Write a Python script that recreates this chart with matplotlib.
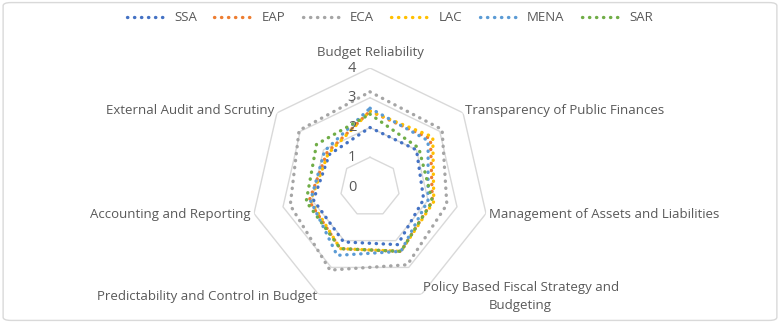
import numpy as np
import matplotlib.pyplot as plt
import matplotlib.transforms as mtransforms
from matplotlib.lines import Line2D
from matplotlib.patches import FancyBboxPatch

plt.rcParams['font.family'] = ['Open Sans', 'DejaVu Sans']

# Category axes (clockwise from the top)
categories = ['Budget Reliability', 'Transparency of Public Finances',
              'Management of Assets and Liabilities',
              'Policy Based Fiscal Strategy and\nBudgeting',
              'Predictability and Control in Budget',
              'Accounting and Reporting', 'External Audit and Scrutiny']

# Region scores
ssa = [2.0, 2.0, 1.85, 2.15, 2.05, 1.95, 1.75]
eap = [2.55, 2.6, 2.15, 2.4, 2.3, 2.1, 1.85]
eca = [3.2, 3.1, 2.65, 2.9, 3.1, 2.75, 3.05]
lac = [2.55, 2.7, 2.2, 2.4, 2.3, 2.05, 1.8]
mena = [2.65, 2.5, 2.0, 2.4, 2.55, 2.05, 1.95]
sar = [2.45, 2.1, 2.15, 2.4, 2.3, 2.2, 2.3]

series_names = ['SSA', 'EAP', 'ECA', 'LAC', 'MENA', 'SAR']
series_vals = [ssa, eap, eca, lac, mena, sar]
colors = ['#4472C4', '#ED7D31', '#A5A5A5', '#FFC000', '#5B9BD5', '#70AD47']
rings = [1, 2, 3, 4]

fig = plt.figure(figsize=(7.8, 3.23), dpi=100)
ax = fig.add_axes([0.3218, 0.0526, 0.3051, 0.7368], projection='polar')
ax.set_theta_zero_location('N')
ax.set_theta_direction(-1)
ax.set_ylim(0, 4)
ax.axis('off')

n = len(categories)
angles = np.linspace(0, 2 * np.pi, n, endpoint=False)
closed = np.concatenate([angles, angles[:1]])

# heptagon gridlines
for r in rings:
    ax.plot(closed, [r] * (n + 1), color='#D9D9D9', lw=1, zorder=1)

# radial tick labels, set just left of the top spoke
shift = mtransforms.offset_copy(ax.transData, fig=fig, x=-18, y=0, units='dots')
for r in [0] + rings:
    ax.text(0, r, str(r), transform=shift, ha='center', va='center',
            fontsize=10.5, color='#595959', zorder=5)

linestyle = (0, (0.1, 2))
for name, vals, c in zip(series_names, series_vals, colors):
    v = list(vals) + [vals[0]]
    ax.plot(closed, v, color=c, lw=2.4, linestyle=linestyle,
            dash_capstyle='round', zorder=3, label=name)

# category labels
label_cfg = [('center', 'bottom', 4.3), ('left', 'center', 4.1),
             ('left', 'center', 4.1), ('left', 'center', 4.08),
             ('right', 'center', 4.1), ('right', 'center', 4.1),
             ('right', 'center', 4.1)]
for a, lab, (ha, va, r) in zip(angles, categories, label_cfg):
    ax.text(a, r, lab, ha=ha, va=va, fontsize=9.5, color='#595959',
            multialignment='center', linespacing=1.55)

handles = [Line2D([0], [0], color=c, lw=2.4, linestyle=linestyle,
                  dash_capstyle='round') for c in colors]
fig.legend(handles, series_names, loc='center', bbox_to_anchor=(0.5, 0.945),
           ncol=6, frameon=False, fontsize=9.5, handlelength=3.0,
           handletextpad=0.6, columnspacing=1.3, labelcolor='#595959')

fig.patches.append(FancyBboxPatch((0.004, 0.008), 0.992, 0.984,
                                  boxstyle='round,pad=0,rounding_size=0.01',
                                  transform=fig.transFigure, fill=False,
                                  edgecolor='#D9D9D9', lw=1))

fig.savefig('out.png', dpi=100)
